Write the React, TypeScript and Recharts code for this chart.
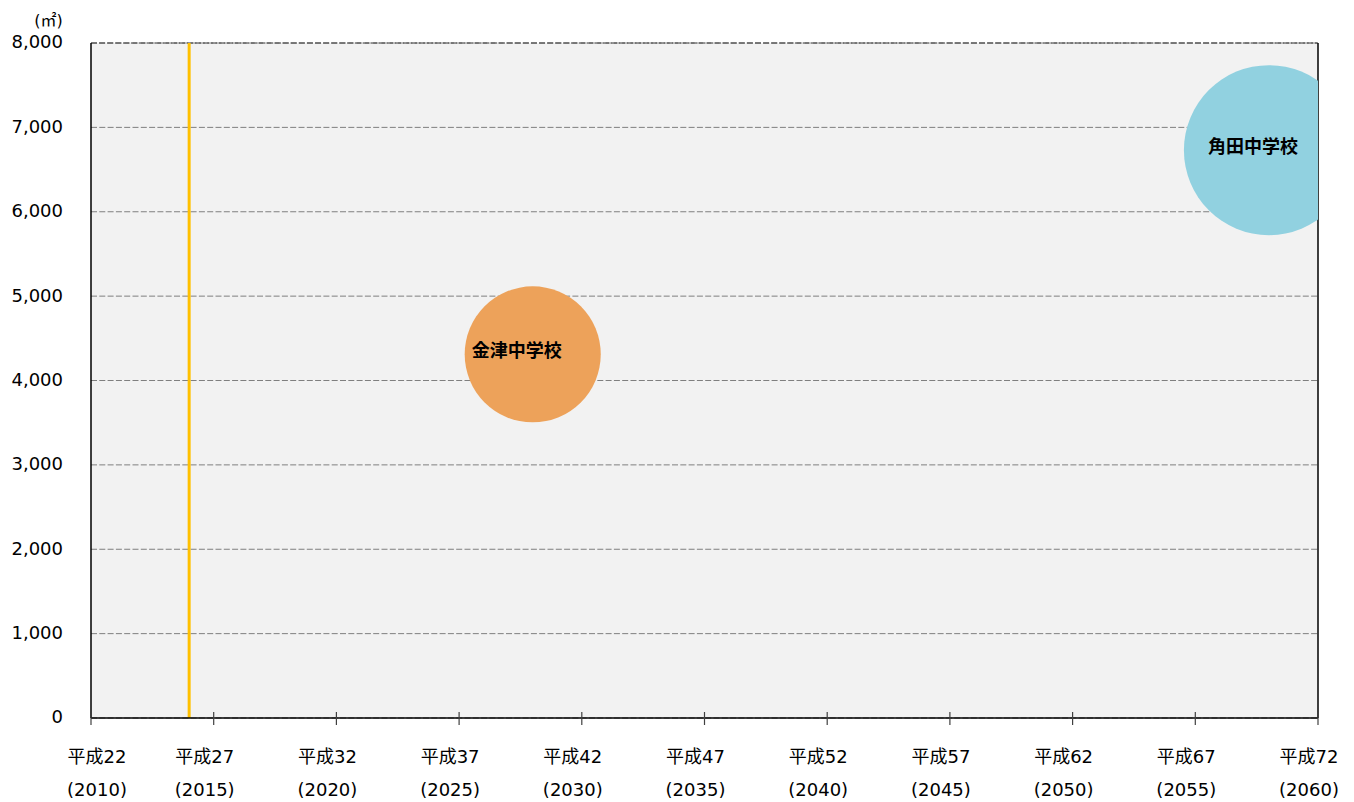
import React from 'react';
import {
  ScatterChart,
  Scatter,
  XAxis,
  YAxis,
  ZAxis,
  CartesianGrid,
  ReferenceLine,
  LabelList,
  Label,
  Cell,
} from 'recharts';

const schoolNames = ['金津中学校', '角田中学校'];
const renewalYears = [2028, 2058];
const floorAreas = [4310, 6730];
const bubbleSizes = [4310, 6730];
const bubbleColors = ['#EDA25A', '#91D1E0'];
const currentYear = 2014;

const xTickYears = [2010, 2015, 2020, 2025, 2030, 2035, 2040, 2045, 2050, 2055, 2060];
const xTickEra = ['平成22', '平成27', '平成32', '平成37', '平成42', '平成47', '平成52', '平成57', '平成62', '平成67', '平成72'];
const yTicks = [0, 1000, 2000, 3000, 4000, 5000, 6000, 7000, 8000];
const unitLabel = '(㎡)';

const data = schoolNames.map((name, i) => ({
  name,
  x: renewalYears[i],
  y: floorAreas[i],
  z: bubbleSizes[i],
}));

const FONT = '"DejaVu Sans", "Noto Sans CJK JP", sans-serif';

const XTick = (props: any) => {
  const { x, y, payload } = props;
  const i = xTickYears.indexOf(payload.value);
  const dx = i === 0 ? 6 : -9;
  return (
    <g>
      <line x1={x} x2={x} y1={y - 6} y2={y + 7} stroke="#404040" strokeWidth={1.2} />
      <text x={x + dx} y={y + 45} textAnchor="middle" fontSize={18} fill="#000" fontFamily={FONT}>
        {xTickEra[i]}
      </text>
      <text x={x + dx} y={y + 78} textAnchor="middle" fontSize={18} fill="#000" fontFamily={FONT}>
        {`(${payload.value})`}
      </text>
    </g>
  );
};

export default function App() {
  return (
    <div style={{ width: 1354, height: 802, fontFamily: FONT }}>
      <style>{'body{margin:0;}'}</style>
      <ScatterChart
        width={1354}
        height={802}
        margin={{ top: 43, right: 36, bottom: 0, left: 0 }}
      >
        <CartesianGrid
          vertical={false}
          fill="#F2F2F2"
          stroke="#7F7F7F"
          strokeDasharray="6 2.3"
        />
        <XAxis
          type="number"
          dataKey="x"
          domain={[2010, 2060]}
          ticks={xTickYears}
          interval={0}
          allowDataOverflow
          height={84}
          tickLine={false}
          tickSize={0}
          tickMargin={0}
          axisLine={{ stroke: '#000', strokeWidth: 1.5 }}
          tick={<XTick />}
        />
        <YAxis
          type="number"
          dataKey="y"
          domain={[0, 8000]}
          ticks={yTicks}
          interval={0}
          width={91}
          tickLine={false}
          tickSize={0}
          tickMargin={28}
          axisLine={{ stroke: '#000', strokeWidth: 1.5 }}
          tickFormatter={(v: number) => v.toLocaleString('en-US')}
          tick={{ fontSize: 18, fill: '#000', fontFamily: FONT, dy: -1 }}
        >
          <Label
            value={unitLabel}
            position="top"
            offset={17}
            dx={3}
            fontSize={16}
            fill="#000"
            fontFamily={FONT}
          />
        </YAxis>
        <ZAxis type="number" dataKey="z" domain={[0, 6730]} range={[0, 22700]} />
        <ReferenceLine y={8000} stroke="#333" strokeDasharray="6 2" />
        <ReferenceLine x={2060} stroke="#000" strokeWidth={1.5} />
        <ReferenceLine x={currentYear} stroke="#FFC000" strokeWidth={3} />
        <Scatter data={data} isAnimationActive={false}>
          {data.map((d, i) => (
            <Cell key={d.name} fill={bubbleColors[i]} />
          ))}
          <LabelList
            dataKey="name"
            position="center"
            fill="#000"
            fontSize={18}
            fontWeight="bold"
            fontFamily='"Noto Sans CJK JP", sans-serif'
            dx={-16}
            dy={-4}
          />
        </Scatter>
      </ScatterChart>
    </div>
  );
}
